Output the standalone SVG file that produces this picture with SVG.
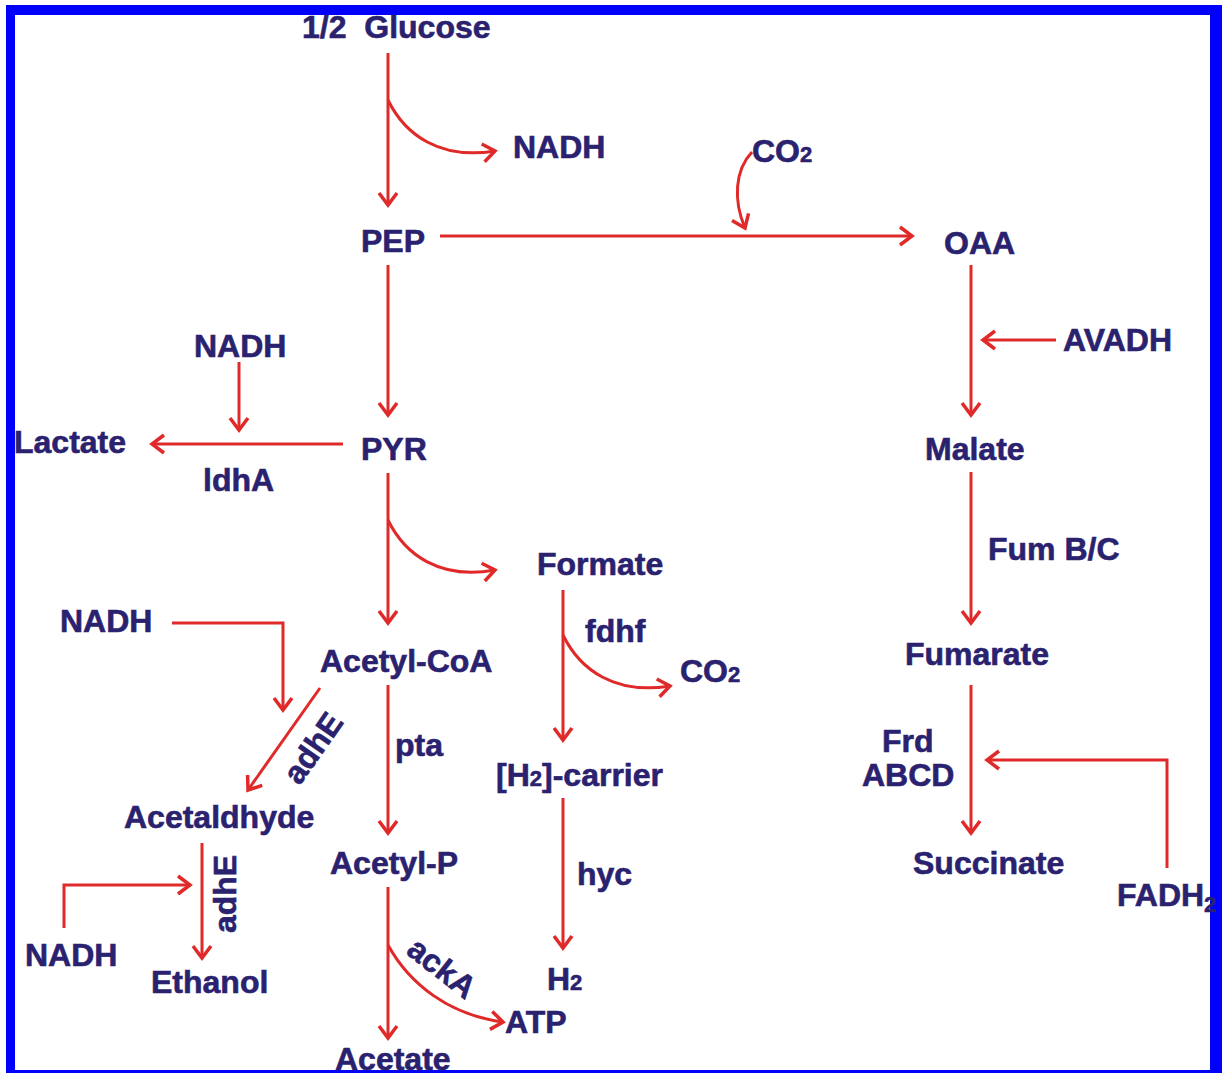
<svg xmlns="http://www.w3.org/2000/svg" width="1222" height="1073" viewBox="0 0 1222 1073">
<defs>
<style>
text{font-family:"Liberation Sans",Arial,sans-serif;font-weight:bold;font-size:32px;fill:#2a216f;stroke:#2a216f;stroke-width:0.6}
.s{font-size:22px}
.c{fill:none;stroke:#e02a2a;stroke-width:3;marker-end:url(#ah)}
</style>
<marker id="ah" markerUnits="userSpaceOnUse" markerWidth="30" markerHeight="30" viewBox="-15 -15 30 30" refX="0" refY="0" orient="auto">
<path d="M-12,-9 L0,0 L-12,9" fill="none" stroke="#e02a2a" stroke-width="3.5" stroke-linejoin="miter"/>
</marker>
</defs>
<rect x="0" y="0" width="1222" height="1073" fill="#fff"/>
<rect x="6" y="5" width="1216" height="1068" fill="#0000fa"/>
<rect x="15" y="15" width="1195" height="1055" fill="#fff"/>

<g id="connectors">
<path class="c" d="M388,53 V205"/>
<path class="c" d="M388,100 C405,135 440,160 495,151"/>
<path class="c" d="M440,236 H912"/>
<path class="c" d="M752,152 C735,170 733,200 745,228"/>
<path class="c" d="M388,265 V415"/>
<path class="c" d="M239,362 V430"/>
<path class="c" d="M343,444 H152"/>
<path class="c" d="M388,473 V623"/>
<path class="c" d="M388,520 C405,555 440,580 495,570"/>
<path class="c" d="M172,623 H283 V710"/>
<path class="c" d="M320,688 L248,790"/>
<path class="c" d="M388,685 V833"/>
<path class="c" d="M563,590 V740"/>
<path class="c" d="M563,635 C580,670 615,695 670,686"/>
<path class="c" d="M563,798 V948"/>
<path class="c" d="M202,843 V958"/>
<path class="c" d="M64,928 V885 H190"/>
<path class="c" d="M388,887 V1038"/>
<path class="c" d="M388,945 C410,985 450,1015 503,1022"/>
<path class="c" d="M971,265 V415"/>
<path class="c" d="M1056,340 H983"/>
<path class="c" d="M971,472 V623"/>
<path class="c" d="M971,685 V833"/>
<path class="c" d="M1167,868 V760 H987"/>
</g>

<g id="glucose"><text x="302" y="38" xml:space="preserve">1/2  Glucose</text></g>
<g id="nadh1"><text x="513" y="158">NADH</text></g>
<g id="co2a"><text x="752" y="162">CO<tspan class="s">2</tspan></text></g>
<g id="pep"><text x="361" y="252">PEP</text></g>
<g id="oaa"><text x="944" y="254">OAA</text></g>
<g id="nadh2"><text x="194" y="357">NADH</text></g>
<g id="avadh"><text x="1063" y="351">AVADH</text></g>
<g id="lactate"><text x="14" y="453">Lactate</text></g>
<g id="pyr"><text x="361" y="460">PYR</text></g>
<g id="ldha"><text x="203" y="491">ldhA</text></g>
<g id="malate"><text x="925" y="460">Malate</text></g>
<g id="formate"><text x="537" y="575">Formate</text></g>
<g id="fumbc"><text x="988" y="560">Fum B/C</text></g>
<g id="nadh3"><text x="60" y="632">NADH</text></g>
<g id="fdhf"><text x="585" y="642">fdhf</text></g>
<g id="acetylcoa"><text x="320" y="672">Acetyl-CoA</text></g>
<g id="co2b"><text x="680" y="682">CO<tspan class="s">2</tspan></text></g>
<g id="fumarate"><text x="905" y="665">Fumarate</text></g>
<g id="adhe1"><text x="0" y="0" transform="translate(313,748) rotate(-55)" text-anchor="middle" dy="11">adhE</text></g>
<g id="pta"><text x="395" y="756">pta</text></g>
<g id="frd"><text x="882" y="752">Frd</text><text x="862" y="786">ABCD</text></g>
<g id="h2carrier"><text x="496" y="786">[H<tspan class="s">2</tspan>]-carrier</text></g>
<g id="acetaldhyde"><text x="124" y="828">Acetaldhyde</text></g>
<g id="acetylp"><text x="330" y="874">Acetyl-P</text></g>
<g id="succinate"><text x="913" y="874">Succinate</text></g>
<g id="hyc"><text x="577" y="885">hyc</text></g>
<g id="fadh2"><text x="1117" y="906">FADH<tspan class="s" dy="6">2</tspan></text></g>
<g id="adhe2"><text x="0" y="0" transform="translate(225,894) rotate(-90)" text-anchor="middle" dy="11">adhE</text></g>
<g id="nadh4"><text x="25" y="966">NADH</text></g>
<g id="ethanol"><text x="151" y="993">Ethanol</text></g>
<g id="acka"><text x="0" y="0" transform="translate(442,968) rotate(38)" text-anchor="middle" dy="11">ackA</text></g>
<g id="h2"><text x="547" y="990">H<tspan class="s">2</tspan></text></g>
<g id="atp"><text x="505" y="1033">ATP</text></g>
<g id="acetate"><text x="335" y="1070">Acetate</text></g>
</svg>
